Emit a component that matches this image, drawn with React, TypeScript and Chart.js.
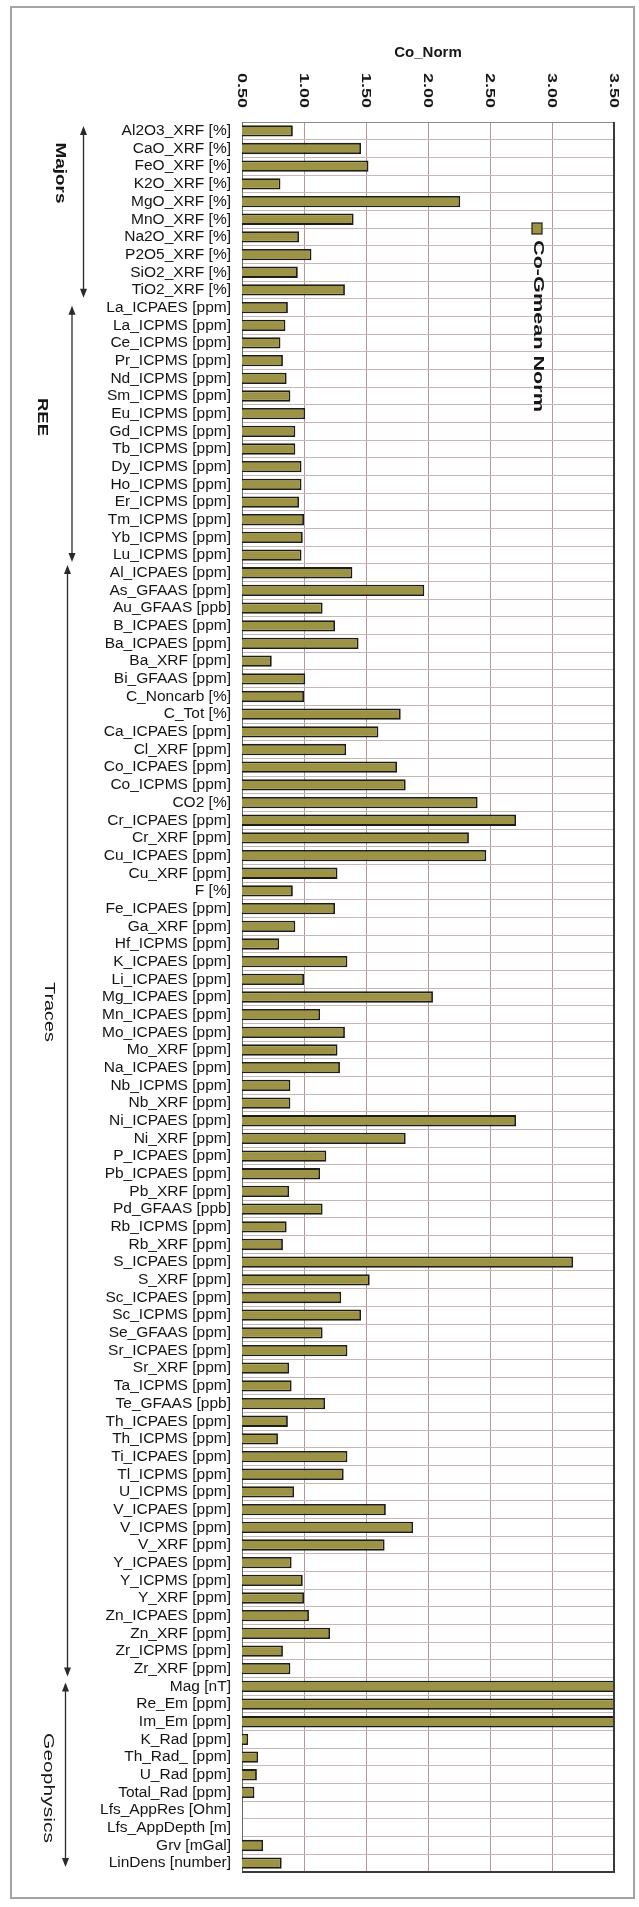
import React, { useEffect, useRef } from 'react';
import { Chart, registerables } from 'chart.js';
Chart.register(...registerables);

const majorsLabels = ['Al2O3_XRF [%]', 'CaO_XRF [%]', 'FeO_XRF [%]', 'K2O_XRF [%]', 'MgO_XRF [%]', 'MnO_XRF [%]', 'Na2O_XRF [%]', 'P2O5_XRF [%]', 'SiO2_XRF [%]', 'TiO2_XRF [%]'];
const majorsValues = [0.91, 1.46, 1.52, 0.81, 2.26, 1.40, 0.96, 1.06, 0.95, 1.33];

const reeLabels = ['La_ICPAES [ppm]', 'La_ICPMS [ppm]', 'Ce_ICPMS [ppm]', 'Pr_ICPMS [ppm]', 'Nd_ICPMS [ppm]', 'Sm_ICPMS [ppm]', 'Eu_ICPMS [ppm]', 'Gd_ICPMS [ppm]', 'Tb_ICPMS [ppm]', 'Dy_ICPMS [ppm]', 'Ho_ICPMS [ppm]', 'Er_ICPMS [ppm]', 'Tm_ICPMS [ppm]', 'Yb_ICPMS [ppm]', 'Lu_ICPMS [ppm]'];
const reeValues = [0.87, 0.85, 0.81, 0.83, 0.86, 0.89, 1.01, 0.93, 0.93, 0.98, 0.98, 0.96, 1.00, 0.99, 0.98];

const tracesLabels = ['Al_ICPAES [ppm]', 'As_GFAAS [ppm]', 'Au_GFAAS [ppb]', 'B_ICPAES [ppm]', 'Ba_ICPAES [ppm]', 'Ba_XRF [ppm]', 'Bi_GFAAS [ppm]', 'C_Noncarb [%]', 'C_Tot [%]', 'Ca_ICPAES [ppm]', 'Cl_XRF [ppm]', 'Co_ICPAES [ppm]', 'Co_ICPMS [ppm]', 'CO2 [%]', 'Cr_ICPAES [ppm]', 'Cr_XRF [ppm]', 'Cu_ICPAES [ppm]', 'Cu_XRF [ppm]', 'F [%]', 'Fe_ICPAES [ppm]', 'Ga_XRF [ppm]', 'Hf_ICPMS [ppm]', 'K_ICPAES [ppm]', 'Li_ICPAES [ppm]', 'Mg_ICPAES [ppm]', 'Mn_ICPAES [ppm]', 'Mo_ICPAES [ppm]', 'Mo_XRF [ppm]', 'Na_ICPAES [ppm]', 'Nb_ICPMS [ppm]', 'Nb_XRF [ppm]', 'Ni_ICPAES [ppm]', 'Ni_XRF [ppm]', 'P_ICPAES [ppm]', 'Pb_ICPAES [ppm]', 'Pb_XRF [ppm]', 'Pd_GFAAS [ppb]', 'Rb_ICPMS [ppm]', 'Rb_XRF [ppm]', 'S_ICPAES [ppm]', 'S_XRF [ppm]', 'Sc_ICPAES [ppm]', 'Sc_ICPMS [ppm]', 'Se_GFAAS [ppm]', 'Sr_ICPAES [ppm]', 'Sr_XRF [ppm]', 'Ta_ICPMS [ppm]', 'Te_GFAAS [ppb]', 'Th_ICPAES [ppm]', 'Th_ICPMS [ppm]', 'Ti_ICPAES [ppm]', 'Tl_ICPMS [ppm]', 'U_ICPMS [ppm]', 'V_ICPAES [ppm]', 'V_ICPMS [ppm]', 'V_XRF [ppm]', 'Y_ICPAES [ppm]', 'Y_ICPMS [ppm]', 'Y_XRF [ppm]', 'Zn_ICPAES [ppm]', 'Zn_XRF [ppm]', 'Zr_ICPMS [ppm]', 'Zr_XRF [ppm]'];
const tracesValues = [1.39, 1.97, 1.15, 1.25, 1.44, 0.74, 1.01, 1.00, 1.78, 1.60, 1.34, 1.75, 1.82, 2.40, 2.71, 2.33, 2.47, 1.27, 0.91, 1.25, 0.93, 0.80, 1.35, 1.00, 2.04, 1.13, 1.33, 1.27, 1.29, 0.89, 0.89, 2.71, 1.82, 1.18, 1.13, 0.88, 1.15, 0.86, 0.83, 3.17, 1.53, 1.30, 1.46, 1.15, 1.35, 0.88, 0.90, 1.17, 0.87, 0.79, 1.35, 1.32, 0.92, 1.66, 1.88, 1.65, 0.90, 0.99, 1.00, 1.04, 1.21, 0.83, 0.89];

const geoLabels = ['Mag [nT]', 'Re_Em [ppm]', 'Im_Em [ppm]', 'K_Rad [ppm]', 'Th_Rad_ [ppm]', 'U_Rad [ppm]', 'Total_Rad [ppm]', 'Lfs_AppRes [Ohm]', 'Lfs_AppDepth [m]', 'Grv [mGal]', 'LinDens [number]'];
const geoValues: (number | null)[] = [4.0, 4.0, 4.0, 0.55, 0.63, 0.62, 0.60, null, null, 0.67, 0.82];

const groupNames = ['Majors', 'REE', 'Traces', 'Geophysics'];
const groupSizes = [majorsLabels.length, reeLabels.length, tracesLabels.length, geoLabels.length];

const xTickValues = [0.5, 1.0, 1.5, 2.0, 2.5, 3.0, 3.5];
const xTickLabels = ['0.50', '1.00', '1.50', '2.00', '2.50', '3.00', '3.50'];
const axisTitle = 'Co_Norm';
const seriesName = 'Co-Gmean Norm';

const categories = [...majorsLabels, ...reeLabels, ...tracesLabels, ...geoLabels];
const values = [...majorsValues, ...reeValues, ...tracesValues, ...geoValues];

const FAMILY = '"Liberation Sans", Arial, Helvetica, sans-serif';
const BAR_FILL = '#9d9345';
const BAR_EDGE = '#1e1e16';

function rotText(ctx: CanvasRenderingContext2D, text: string, cx: number, cy: number, font: string, targetLen: number, color: string) {
  ctx.save();
  ctx.font = font;
  const w = ctx.measureText(text).width;
  const s = targetLen / w;
  ctx.translate(cx, cy);
  ctx.rotate(Math.PI / 2);
  ctx.scale(s, 1);
  ctx.fillStyle = color;
  ctx.textAlign = 'center';
  ctx.textBaseline = 'middle';
  ctx.fillText(text, 0, 0);
  ctx.restore();
}

const decorPlugin = {
  id: 'decor',
  beforeDraw(chart: any) {
    const ctx = chart.ctx as CanvasRenderingContext2D;
    ctx.save();
    ctx.fillStyle = '#ffffff';
    ctx.fillRect(0, 0, chart.width, chart.height);
    ctx.strokeStyle = '#a3a3a3';
    ctx.lineWidth = 2;
    ctx.strokeRect(11, 7, 623, 1891);
    ctx.restore();
  },
  afterDraw(chart: any) {
    const ctx = chart.ctx as CanvasRenderingContext2D;
    const { left, right, top, bottom } = chart.chartArea;
    const xs = chart.scales.x;
    const ys = chart.scales.y;
    ctx.save();
    ctx.strokeStyle = '#3a3a3a';
    ctx.lineWidth = 2;
    ctx.beginPath();
    ctx.moveTo(right, top);
    ctx.lineTo(right, bottom);
    ctx.lineTo(left, bottom);
    ctx.stroke();

    xTickValues.forEach((v, i) => {
      const x = xs.getPixelForValue(v);
      rotText(ctx, xTickLabels[i], x, 90.5, `bold 13px ${FAMILY}`, 35, '#161616');
    });

    ctx.fillStyle = BAR_FILL;
    ctx.strokeStyle = BAR_EDGE;
    ctx.lineWidth = 1.2;
    ctx.fillRect(532, 223, 10, 11);
    ctx.strokeRect(532, 223, 10, 11);
    rotText(ctx, seriesName, 537.5, 326, `bold 14px ${FAMILY}`, 172, '#161616');

    const arrowX = [83.5, 72, 67.5, 65.5];
    const labelPos = [[60, 173], [42, 417], [49, 1012], [48, 1788]];
    const labelLen = [61, 38, 60, 110];
    const labelWeight = ['bold', 'bold', 'normal', 'normal'];
    const gaps = [[4, 1], [7, 2], [1, 1], [5, 5]];
    let start = 0;
    groupNames.forEach((name, g) => {
      const end = start + groupSizes[g] - 1;
      const half = (ys.getPixelForValue(1) - ys.getPixelForValue(0)) / 2;
      const y0 = ys.getPixelForValue(start) - half + gaps[g][0];
      const y1 = ys.getPixelForValue(end) + half - gaps[g][1];
      const ax = arrowX[g];
      ctx.strokeStyle = '#2a2a2a';
      ctx.fillStyle = '#2a2a2a';
      ctx.lineWidth = 1.3;
      ctx.beginPath();
      ctx.moveTo(ax, y0 + 3);
      ctx.lineTo(ax, y1 - 3);
      ctx.stroke();
      ctx.beginPath();
      ctx.moveTo(ax, y0);
      ctx.lineTo(ax - 3.5, y0 + 9);
      ctx.lineTo(ax + 3.5, y0 + 9);
      ctx.closePath();
      ctx.fill();
      ctx.beginPath();
      ctx.moveTo(ax, y1);
      ctx.lineTo(ax - 3.5, y1 - 9);
      ctx.lineTo(ax + 3.5, y1 - 9);
      ctx.closePath();
      ctx.fill();
      rotText(ctx, name, labelPos[g][0], labelPos[g][1], `${labelWeight[g]} 14px ${FAMILY}`, labelLen[g], '#161616');
      start = end + 1;
    });
    ctx.restore();
  },
};

export default function App() {
  const ref = useRef<HTMLCanvasElement | null>(null);
  useEffect(() => {
    if (!ref.current) return;
    const chart = new Chart(ref.current, {
      type: 'bar',
      data: {
        labels: categories,
        datasets: [
          {
            label: seriesName,
            data: values as any,
            backgroundColor: BAR_FILL,
            borderColor: BAR_EDGE,
            borderWidth: 1.8,
            borderSkipped: false,
            barPercentage: 0.64,
            categoryPercentage: 1.0,
          },
        ],
      },
      options: {
        indexAxis: 'y',
        responsive: false,
        animation: false,
        devicePixelRatio: 1,
        layout: { padding: { left: 0, right: 25, top: 0, bottom: 35 } },
        plugins: {
          legend: { display: false },
          tooltip: { enabled: false },
          title: { display: false },
        },
        scales: {
          x: {
            type: 'linear',
            position: 'top',
            min: 0.5,
            max: 3.5,
            ticks: { display: false, stepSize: 0.5 },
            grid: { color: 'rgb(178,152,152)', lineWidth: 1, drawTicks: false },
            border: { display: true, color: '#8a8a8a', width: 1 },
            title: {
              display: true,
              text: axisTitle,
              color: '#161616',
              font: { family: FAMILY, size: 15, weight: 'bold' },
              padding: { top: 44, bottom: 0 },
            },
            afterFit: (s: any) => {
              s.height = 122;
            },
          },
          y: {
            type: 'category',
            ticks: {
              autoSkip: false,
              color: '#141414',
              font: { family: FAMILY, size: 15.5 },
              padding: 11,
            },
            grid: { color: 'rgb(200,182,182)', lineWidth: 1, drawTicks: false, offset: true },
            border: { display: true, color: '#6a6a6a', width: 1 },
            afterFit: (s: any) => {
              s.width = 242;
            },
          },
        },
      } as any,
      plugins: [decorPlugin],
    });
    return () => chart.destroy();
  }, []);

  return (
    <div style={{ position: 'absolute', left: 0, top: 0, width: 639, height: 1907, background: '#fff' }}>
      <canvas ref={ref} width={639} height={1907} style={{ display: 'block', width: 639, height: 1907 }} />
    </div>
  );
}
